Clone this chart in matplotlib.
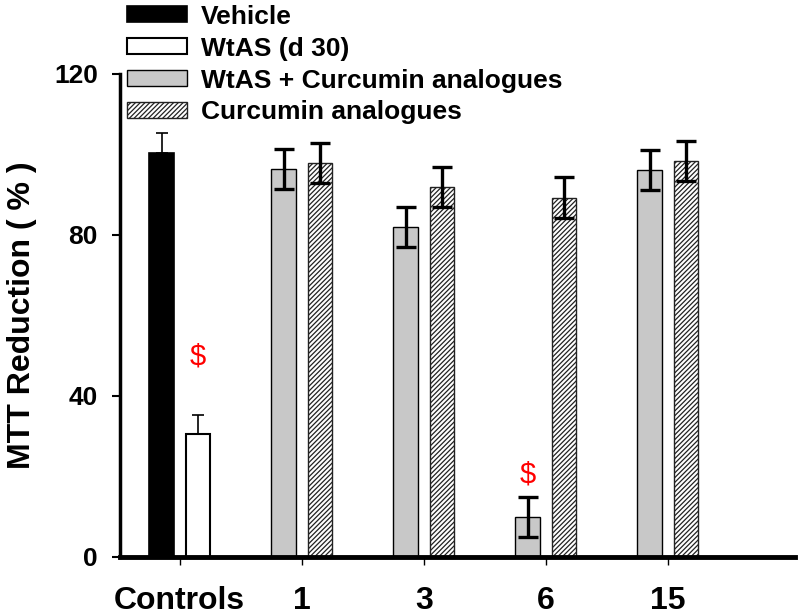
import matplotlib.pyplot as plt
import numpy as np

plt.rcParams['font.family'] = ['Liberation Sans', 'DejaVu Sans']
plt.rcParams['hatch.linewidth'] = 0.9

groups = ["Controls", "1", "3", "6", "15"]
vehicle = 100.3
vehicle_err = 5.0
wtas = 30.6
wtas_err = 4.8
combo = [96.4, 82.0, 10.0, 96.2]
combo_err = [5.0, 5.0, 5.0, 5.0]
analog = [97.8, 92.0, 89.3, 98.3]
analog_err = [5.0, 5.0, 5.0, 5.0]
sig_marks = [(0, 0.15, "$", 49.7), (3, -0.15, "$", 20.4)]

fig = plt.figure(figsize=(7.98, 6.16), dpi=100)
ax = fig.add_axes([0.1504, 0.0958, 0.8456, 0.7841])

w = 0.2
off = 0.15
x = np.arange(len(groups))
xd = x[1:]

ax.bar(0 - off, vehicle, w, color='black', edgecolor='black', lw=1.2,
       label='Vehicle')
ax.bar(0 + off, wtas, w, color='white', edgecolor='black', lw=1.5,
       label='WtAS (d 30)')
ax.errorbar([0 - off, 0 + off], [vehicle, wtas], yerr=[[0, 0], [vehicle_err, wtas_err]],
            fmt='none', ecolor='black', elinewidth=1.2, capsize=4.5, capthick=1.2)

ax.bar(xd - off, combo, w, color='#c8c8c8', edgecolor='black', lw=1.0,
       label='WtAS + Curcumin analogues')
ax.bar(xd + off, analog, w, color='white', edgecolor='#222222', lw=1.0,
       hatch='///////', label='Curcumin analogues')
ax.errorbar(xd - off, combo, yerr=combo_err, fmt='none', ecolor='black',
            elinewidth=2.4, capsize=7, capthick=2.4)
ax.errorbar(xd + off, analog, yerr=analog_err, fmt='none', ecolor='black',
            elinewidth=2.4, capsize=7, capthick=2.4)

for gi, dx, s, yv in sig_marks:
    ax.text(gi + dx, yv, s, color='red', fontsize=21, ha='center', va='center')

ax.set_xlim(-0.49, 5.04)
ax.set_ylim(0, 120)
ax.set_yticks([0, 40, 80, 120])
ax.set_xticks(x)
ax.set_xticklabels(groups, fontsize=23, fontweight='bold')
for t in ax.get_yticklabels():
    t.set_fontsize(19)
    t.set_fontweight('bold')
ax.tick_params(axis='y', length=6, width=1.5, pad=10)
ax.tick_params(axis='x', length=6, width=1.0, pad=15)
ax.set_ylabel('MTT Reduction ( % )', fontsize=23, fontweight='bold', labelpad=12)

ax.spines['top'].set_visible(False)
ax.spines['right'].set_visible(False)
ax.spines['left'].set_linewidth(2.5)
ax.spines['bottom'].set_linewidth(3.5)

leg = fig.legend(loc='upper left', bbox_to_anchor=(0.139, 1.018), frameon=False,
                 prop={'weight': 'bold', 'size': 19},
                 handlelength=2.3, handleheight=0.55, handletextpad=0.5,
                 labelspacing=0.3, borderpad=0.1)

fig.savefig('out.png', dpi=100)
